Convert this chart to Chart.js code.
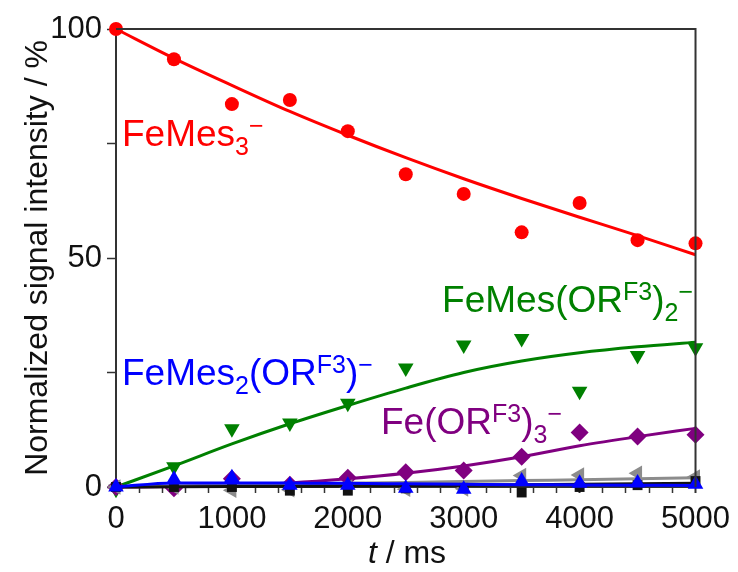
<!DOCTYPE html>
<html lang="en">
<head>
    <meta charset="UTF-8">
    <title>Normalized signal intensity vs time</title>
    <script src="https://cdn.jsdelivr.net/npm/chart.js"></script>
    <style>
        body { margin: 0; background: #fff; font-family: 'Liberation Sans', Arial, sans-serif; }
        #wrap { position: relative; width: 738px; height: 572px; }
        .lbl { position: absolute; font-size: 37px; line-height: 37px; white-space: nowrap; }
        .lbl sub, .lbl sup { font-size: 25px; line-height: 0; position: relative; vertical-align: baseline; }
        .lbl sup { top: -12px; }
        .lbl sub { top: 9px; }
        #xtitle { position: absolute; left: 116px; width: 582px; top: 536px; text-align: center; font-size: 32px; line-height: 32px; color: #111; }
    </style>
</head>
<body>
<div id="wrap">
    <canvas id="c" width="738" height="572"></canvas>
    <div class="lbl" style="left:122px; top:115px; color:#ff0000">FeMes<sub>3</sub><sup>−</sup></div>
    <div class="lbl" style="right:45px; top:281px; color:#008000">FeMes(OR<sup>F3</sup>)<sub>2</sub><sup>−</sup></div>
    <div class="lbl" style="left:122px; top:354px; color:#0000ff">FeMes<sub>2</sub>(OR<sup>F3</sup>)<sup>−</sup></div>
    <div class="lbl" style="right:176px; top:403px; color:#800080">Fe(OR<sup>F3</sup>)<sub>3</sub><sup>−</sup></div>
    <div id="xtitle"><i>t</i> / ms</div>
</div>
<script>
    // time points (ms)
    const times = [0, 500, 1000, 1500, 2000, 2500, 3000, 3500, 4000, 4500, 5000];

    // measured intensities (%)
    const feMes3      = [100, 93.4, 83.6, 84.5, 77.7, 68.3, 64.0, 55.6, 62.0, 53.9, 53.2];
    const feMesOR2    = [-0.5, 4.4, 12.7, 14.0, 18.3, 26.0, 31.0, 32.4, 20.9, 28.7, 30.4];
    const feOR3       = [0, -0.3, 1.8, 0.5, 2.0, 3.2, 3.6, 6.6, 11.9, 11.0, 11.4];
    const feMes2OR    = [0, 1.7, 2.0, 0.4, 0.4, -0.3, -0.5, 1.3, 0.8, 0.9, 0.6];
    const graySpecies = [0, 0, -0.7, -0.6, 0, -0.5, -0.4, 2.5, 2.6, 3.0, 2.2];
    const blackSpecies = [0, 0, 0, -0.8, -0.8, -0.3, -0.2, -1.2, 0, 0.4, 1.3];

    // fitted curves (%)
    const feMes3Fit   = [100, 93.6, 87.7, 82.0, 76.8, 71.9, 67.3, 63.0, 58.9, 54.9, 50.7];
    const feMesOR2Fit = [0, 4.6, 9.4, 13.8, 17.8, 21.6, 25.0, 27.5, 29.3, 30.6, 31.6];
    const feOR3Fit    = [0, 0.1, 0.4, 0.9, 1.8, 3.0, 4.6, 6.6, 9.0, 11.0, 12.8];
    const feMes2ORFit = [0, 0.9, 0.9, 0.85, 0.8, 0.7, 0.6, 0.5, 0.45, 0.4, 0.35];
    const grayFit     = [0, 0.2, 0.4, 0.6, 0.8, 1.0, 1.2, 1.4, 1.6, 1.8, 2.0];
    const blackFit    = [0, 0.05, 0.1, 0.15, 0.2, 0.3, 0.4, 0.5, 0.6, 0.7, 0.8];

    const toXY = arr => times.map((t, i) => ({ x: t, y: arr[i] }));

    function pts(data, color, style, radius, rotation) {
        return { data: toXY(data), showLine: false, pointStyle: style, pointRadius: radius, pointRotation: rotation || 0,
                 backgroundColor: color, borderColor: color, pointBorderWidth: 0, clip: false };
    }
    function fit(data, color) {
        return { data: toXY(data), showLine: true, pointRadius: 0, borderColor: color, borderWidth: 3,
                 cubicInterpolationMode: 'monotone', clip: false };
    }

    // top and right sides of the box
    const frame = {
        id: 'frame',
        afterDraw(chart) {
            const { ctx, chartArea: a } = chart;
            ctx.save();
            ctx.strokeStyle = '#333';
            ctx.lineWidth = 2;
            ctx.beginPath();
            ctx.moveTo(a.left, a.top); ctx.lineTo(a.right, a.top); ctx.lineTo(a.right, a.bottom);
            ctx.stroke();
            ctx.restore();
        }
    };

    const tickFont = { family: "'Liberation Sans', Arial, sans-serif", size: 31 };

    new Chart(document.getElementById('c'), {
        type: 'scatter',
        data: {
            datasets: [
                pts(feMes2OR, '#0000ff', 'triangle', 9),
                fit(feMes2ORFit, '#0000ff'),
                pts(blackSpecies, '#111111', 'rect', 7),
                fit(blackFit, '#111111'),
                pts(graySpecies, '#8c8c8c', 'triangle', 9, -90),
                fit(grayFit, '#8c8c8c'),
                pts(feOR3, '#800080', 'rectRot', 9),
                fit(feOR3Fit, '#800080'),
                pts(feMesOR2, '#008000', 'triangle', 9, 180),
                fit(feMesOR2Fit, '#008000'),
                pts(feMes3, '#ff0000', 'circle', 7),
                fit(feMes3Fit, '#ff0000')
            ]
        },
        options: {
            responsive: false,
            animation: false,
            devicePixelRatio: 1,
            layout: { padding: { top: 29, right: 40, left: 0, bottom: 0 } },
            plugins: { legend: { display: false }, tooltip: { enabled: false } },
            scales: {
                x: {
                    type: 'linear', min: 0, max: 5000,
                    ticks: { stepSize: 200, autoSkip: false, maxRotation: 0, padding: 8, color: '#111', font: tickFont,
                             callback: v => (v % 1000 === 0 ? v : '') },
                    grid: { drawOnChartArea: false, color: '#333', tickLength: 6,
                            tickWidth: c => (c.tick && c.tick.value % 1000 === 0 ? 2 : 1.5) },
                    border: { color: '#333', width: 2 },
                    afterFit: s => { s.height = 85; }
                },
                y: {
                    min: 0, max: 100,
                    ticks: { stepSize: 25, padding: 5, color: '#111', font: tickFont,
                             callback: v => (v % 50 === 0 ? v : '') },
                    grid: { drawOnChartArea: false, color: '#333', tickLength: 9, tickWidth: 1.5 },
                    border: { color: '#333', width: 2 },
                    title: { display: true, text: 'Normalized signal intensity / %', color: '#111',
                             font: { family: "'Liberation Sans', Arial, sans-serif", size: 32 },
                             padding: { top: 19, bottom: 0 } },
                    afterFit: s => { s.width = 116; }
                }
            }
        },
        plugins: [frame]
    });
</script>
</body>
</html>
